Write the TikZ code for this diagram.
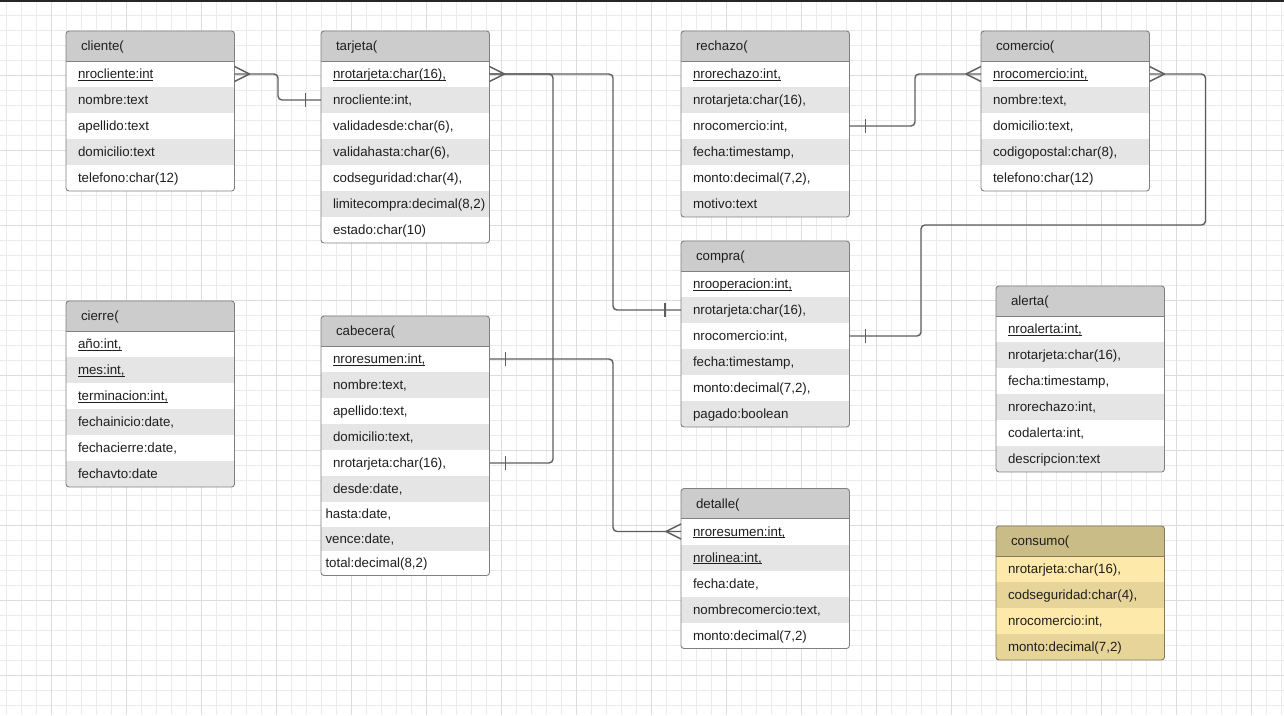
\documentclass[tikz,border=0pt]{standalone}
\usepackage{fontspec}
\setmainfont{Liberation Sans}
\usetikzlibrary{calc}
\definecolor{gridminor}{HTML}{EBEBEB}
\definecolor{gridmajor}{HTML}{DCDCDC}
\definecolor{hdrgray}{HTML}{CCCCCC}
\definecolor{rowgray}{HTML}{E5E5E5}
\definecolor{bordercol}{HTML}{808080}
\definecolor{conncol}{HTML}{5E5E5E}
\definecolor{txtcol}{HTML}{1F1F1F}
\definecolor{hdrtan}{HTML}{C9BC86}
\definecolor{rowyel}{HTML}{FDE9A9}
\definecolor{rowyeld}{HTML}{E6D499}
\definecolor{bordertan}{HTML}{857A58}
\newcommand\erfont{\fontsize{13.3}{16}\selectfont}
\newcommand\ulx[1]{\setbox0=\hbox{#1}\rlap{\color{txtcol}\rule[-2pt]{\wd0}{0.9pt}}\box0}
\tikzset{
  hdrbox/.style={anchor=north west, minimum width=168.5, minimum height=30, inner sep=0, outer sep=0},
  rowbox/.style={anchor=north west, minimum width=168.5, inner sep=0, outer sep=0},
  txt/.style={anchor=base west, inner sep=0, outer sep=0, font=\erfont, text=txtcol},
  tblborder/.style={draw=bordercol, line width=0.9, rounded corners=3},
  sepline/.style={draw=bordercol, line width=0.9},
  conn/.style={draw=conncol, line width=1.4, rounded corners=4},
  tick/.style={draw=conncol, line width=1.4}
}
\newcommand\erhead[5]{%
  \node[hdrbox, fill=#4] (#1) at (#2,#3) {};
  \node[txt] at ([shift={(15,4.5)}]#1.west) {#5};}
\newcommand\erow[6]{%
  \node[rowbox, minimum height=#3, fill=#4] (#1) at (#2.south west) {};
  \node[txt] at ([shift={(#5,4.5)}]#1.west) {#6};}
\begin{document}
\begin{tikzpicture}[x=1pt,y=-1pt]
\useasboundingbox (0,0) rectangle (1284,715);
\fill[white] (0,0) rectangle (1284,715);
\foreach \x in {6,21,...,1284} \draw[gridminor, line width=1] (\x,0) -- (\x,715);
\foreach \y in {15,30,...,714} \draw[gridminor, line width=1] (0,\y) -- (1284,\y);
\foreach \x in {51,126,...,1284} \draw[gridmajor, line width=1] (\x,0) -- (\x,715);
\foreach \y in {75,150,...,714} \draw[gridmajor, line width=1] (0,\y) -- (1284,\y);
\draw[black!85, line width=1.5] (0,0.75) -- (1284,0.75);

% cliente
\begin{scope}
\clip[rounded corners=3] (66,31) rectangle (234.5,191);
\erhead{cli-h}{66}{31}{hdrgray}{cliente(}
\erow{cli-1}{cli-h}{26}{white}{12}{\ulx{nrocliente:int}}
\erow{cli-2}{cli-1}{26}{rowgray}{12}{nombre:text}
\erow{cli-3}{cli-2}{26}{white}{12}{apellido:text}
\erow{cli-4}{cli-3}{26}{rowgray}{12}{domicilio:text}
\erow{cli-5}{cli-4}{26}{white}{12}{telefono:char(12)}
\end{scope}
\draw[tblborder] (cli-h.north west) rectangle (cli-5.south east);
\draw[sepline] (cli-h.south west) -- (cli-h.south east);

% tarjeta
\begin{scope}
\clip[rounded corners=3] (321,31) rectangle (489.5,243);
\erhead{tar-h}{321}{31}{hdrgray}{tarjeta(}
\erow{tar-1}{tar-h}{26}{white}{12}{\ulx{nrotarjeta:char(16),}}
\erow{tar-2}{tar-1}{26}{rowgray}{12}{nrocliente:int,}
\erow{tar-3}{tar-2}{26}{white}{12}{validadesde:char(6),}
\erow{tar-4}{tar-3}{26}{rowgray}{12}{validahasta:char(6),}
\erow{tar-5}{tar-4}{26}{white}{12}{codseguridad:char(4),}
\erow{tar-6}{tar-5}{26}{rowgray}{12}{limitecompra:decimal(8,2)}
\erow{tar-7}{tar-6}{26}{white}{12}{estado:char(10)}
\end{scope}
\draw[tblborder] (tar-h.north west) rectangle (tar-7.south east);
\draw[sepline] (tar-h.south west) -- (tar-h.south east);

% rechazo
\begin{scope}
\clip[rounded corners=3] (681,31) rectangle (849.5,217);
\erhead{rec-h}{681}{31}{hdrgray}{rechazo(}
\erow{rec-1}{rec-h}{26}{white}{12}{\ulx{nrorechazo:int,}}
\erow{rec-2}{rec-1}{26}{rowgray}{12}{nrotarjeta:char(16),}
\erow{rec-3}{rec-2}{26}{white}{12}{nrocomercio:int,}
\erow{rec-4}{rec-3}{26}{rowgray}{12}{fecha:timestamp,}
\erow{rec-5}{rec-4}{26}{white}{12}{monto:decimal(7,2),}
\erow{rec-6}{rec-5}{26}{rowgray}{12}{motivo:text}
\end{scope}
\draw[tblborder] (rec-h.north west) rectangle (rec-6.south east);
\draw[sepline] (rec-h.south west) -- (rec-h.south east);

% comercio
\begin{scope}
\clip[rounded corners=3] (981,31) rectangle (1149.5,191);
\erhead{cme-h}{981}{31}{hdrgray}{comercio(}
\erow{cme-1}{cme-h}{26}{white}{12}{\ulx{nrocomercio:int,}}
\erow{cme-2}{cme-1}{26}{rowgray}{12}{nombre:text,}
\erow{cme-3}{cme-2}{26}{white}{12}{domicilio:text,}
\erow{cme-4}{cme-3}{26}{rowgray}{12}{codigopostal:char(8),}
\erow{cme-5}{cme-4}{26}{white}{12}{telefono:char(12)}
\end{scope}
\draw[tblborder] (cme-h.north west) rectangle (cme-5.south east);
\draw[sepline] (cme-h.south west) -- (cme-h.south east);

% compra
\begin{scope}
\clip[rounded corners=3] (681,241) rectangle (849.5,427);
\erhead{cmp-h}{681}{241}{hdrgray}{compra(}
\erow{cmp-1}{cmp-h}{26}{white}{12}{\ulx{nrooperacion:int,}}
\erow{cmp-2}{cmp-1}{26}{rowgray}{12}{nrotarjeta:char(16),}
\erow{cmp-3}{cmp-2}{26}{white}{12}{nrocomercio:int,}
\erow{cmp-4}{cmp-3}{26}{rowgray}{12}{fecha:timestamp,}
\erow{cmp-5}{cmp-4}{26}{white}{12}{monto:decimal(7,2),}
\erow{cmp-6}{cmp-5}{26}{rowgray}{12}{pagado:boolean}
\end{scope}
\draw[tblborder] (cmp-h.north west) rectangle (cmp-6.south east);
\draw[sepline] (cmp-h.south west) -- (cmp-h.south east);

% alerta
\begin{scope}
\clip[rounded corners=3] (996,286) rectangle (1164.5,472);
\erhead{ale-h}{996}{286}{hdrgray}{alerta(}
\erow{ale-1}{ale-h}{26}{white}{12}{\ulx{nroalerta:int,}}
\erow{ale-2}{ale-1}{26}{rowgray}{12}{nrotarjeta:char(16),}
\erow{ale-3}{ale-2}{26}{white}{12}{fecha:timestamp,}
\erow{ale-4}{ale-3}{26}{rowgray}{12}{nrorechazo:int,}
\erow{ale-5}{ale-4}{26}{white}{12}{codalerta:int,}
\erow{ale-6}{ale-5}{26}{rowgray}{12}{descripcion:text}
\end{scope}
\draw[tblborder] (ale-h.north west) rectangle (ale-6.south east);
\draw[sepline] (ale-h.south west) -- (ale-h.south east);

% cierre
\begin{scope}
\clip[rounded corners=3] (66,301) rectangle (234.5,487);
\erhead{cie-h}{66}{301}{hdrgray}{cierre(}
\erow{cie-1}{cie-h}{26}{white}{12}{\ulx{año:int,}}
\erow{cie-2}{cie-1}{26}{rowgray}{12}{\ulx{mes:int,}}
\erow{cie-3}{cie-2}{26}{white}{12}{\ulx{terminacion:int,}}
\erow{cie-4}{cie-3}{26}{rowgray}{12}{fechainicio:date,}
\erow{cie-5}{cie-4}{26}{white}{12}{fechacierre:date,}
\erow{cie-6}{cie-5}{26}{rowgray}{12}{fechavto:date}
\end{scope}
\draw[tblborder] (cie-h.north west) rectangle (cie-6.south east);
\draw[sepline] (cie-h.south west) -- (cie-h.south east);

% cabecera
\begin{scope}
\clip[rounded corners=3] (321,316) rectangle (489.5,575.5);
\erhead{cab-h}{321}{316}{hdrgray}{cabecera(}
\erow{cab-1}{cab-h}{26}{white}{12}{\ulx{nroresumen:int,}}
\erow{cab-2}{cab-1}{26}{rowgray}{12}{nombre:text,}
\erow{cab-3}{cab-2}{26}{white}{12}{apellido:text,}
\erow{cab-4}{cab-3}{26}{rowgray}{12}{domicilio:text,}
\erow{cab-5}{cab-4}{26}{white}{12}{nrotarjeta:char(16),}
\erow{cab-6}{cab-5}{26}{rowgray}{12}{desde:date,}
\erow{cab-7}{cab-6}{24.5}{white}{4.5}{hasta:date,}
\erow{cab-8}{cab-7}{24.5}{rowgray}{4.5}{vence:date,}
\erow{cab-9}{cab-8}{24.5}{white}{4.5}{total:decimal(8,2)}
\end{scope}
\draw[tblborder] (cab-h.north west) rectangle (cab-9.south east);
\draw[sepline] (cab-h.south west) -- (cab-h.south east);

% detalle
\begin{scope}
\clip[rounded corners=3] (681,488.5) rectangle (849.5,648.5);
\erhead{det-h}{681}{488.5}{hdrgray}{detalle(}
\erow{det-1}{det-h}{26}{white}{12}{\ulx{nroresumen:int,}}
\erow{det-2}{det-1}{26}{rowgray}{12}{\ulx{nrolinea:int,}}
\erow{det-3}{det-2}{26}{white}{12}{fecha:date,}
\erow{det-4}{det-3}{26}{rowgray}{12}{nombrecomercio:text,}
\erow{det-5}{det-4}{26}{white}{12}{monto:decimal(7,2)}
\end{scope}
\draw[tblborder] (det-h.north west) rectangle (det-5.south east);
\draw[sepline] (det-h.south west) -- (det-h.south east);

% consumo
\begin{scope}
\clip[rounded corners=3] (996,526) rectangle (1164.5,660);
\erhead{cns-h}{996}{526}{hdrtan}{consumo(}
\erow{cns-1}{cns-h}{26}{rowyel}{12}{nrotarjeta:char(16),}
\erow{cns-2}{cns-1}{26}{rowyeld}{12}{codseguridad:char(4),}
\erow{cns-3}{cns-2}{26}{rowyel}{12}{nrocomercio:int,}
\erow{cns-4}{cns-3}{26}{rowyeld}{12}{monto:decimal(7,2)}
\end{scope}
\draw[tblborder, draw=bordertan] (cns-h.north west) rectangle (cns-4.south east);
\draw[sepline, draw=bordertan] (cns-h.south west) -- (cns-h.south east);

% connectors
% cliente -- tarjeta
\draw[conn] (cli-1.east) -- ++(43.5,0) |- (tar-2.west);
\draw[tick] ([shift={(15,0)}]cli-1.east) -- ([shift={(0,-7.5)}]cli-1.east);
\draw[tick] ([shift={(15,0)}]cli-1.east) -- ([shift={(0,7.5)}]cli-1.east);
\draw[tick] ([shift={(-15.5,-7)}]tar-2.west) -- ([shift={(-15.5,7)}]tar-2.west);

% tarjeta -- compra
\draw[conn] (tar-1.east) -- ++(123.5,0) |- (cmp-2.west);
\draw[tick] ([shift={(-16,-7)}]cmp-2.west) -- ([shift={(-16,7)}]cmp-2.west);
% tarjeta -- cabecera
\draw[conn] (tar-1.east) -- ++(63.5,0) |- (cab-5.east);
\draw[tick] ([shift={(16,-7)}]cab-5.east) -- ([shift={(16,7)}]cab-5.east);
\draw[tick] ([shift={(15,0)}]tar-1.east) -- ([shift={(0,-7.5)}]tar-1.east);
\draw[tick] ([shift={(15,0)}]tar-1.east) -- ([shift={(0,7.5)}]tar-1.east);

% rechazo -- comercio
\draw[conn] (rec-3.east) -- ++(65.5,0) |- (cme-1.west);
\draw[tick] ([shift={(16,-7)}]rec-3.east) -- ([shift={(16,7)}]rec-3.east);
\draw[tick] ([shift={(-15,0)}]cme-1.west) -- ([shift={(0,-7.5)}]cme-1.west);
\draw[tick] ([shift={(-15,0)}]cme-1.west) -- ([shift={(0,7.5)}]cme-1.west);

% comercio -- compra
\coordinate (j5) at (921,225);
\draw[conn] (cme-1.east) -- ++(56,0) |- (j5) |- (cmp-3.east);
\draw[tick] ([shift={(15,0)}]cme-1.east) -- ([shift={(0,-7.5)}]cme-1.east);
\draw[tick] ([shift={(15,0)}]cme-1.east) -- ([shift={(0,7.5)}]cme-1.east);
\draw[tick] ([shift={(16,-7)}]cmp-3.east) -- ([shift={(16,7)}]cmp-3.east);

% cabecera -- detalle
\draw[conn] (cab-1.east) -- ++(123.5,0) |- (det-1.west);
\draw[tick] ([shift={(16,-7)}]cab-1.east) -- ([shift={(16,7)}]cab-1.east);
\draw[tick] ([shift={(-15,0)}]det-1.west) -- ([shift={(0,-7.5)}]det-1.west);
\draw[tick] ([shift={(-15,0)}]det-1.west) -- ([shift={(0,7.5)}]det-1.west);
\end{tikzpicture}
\end{document}
